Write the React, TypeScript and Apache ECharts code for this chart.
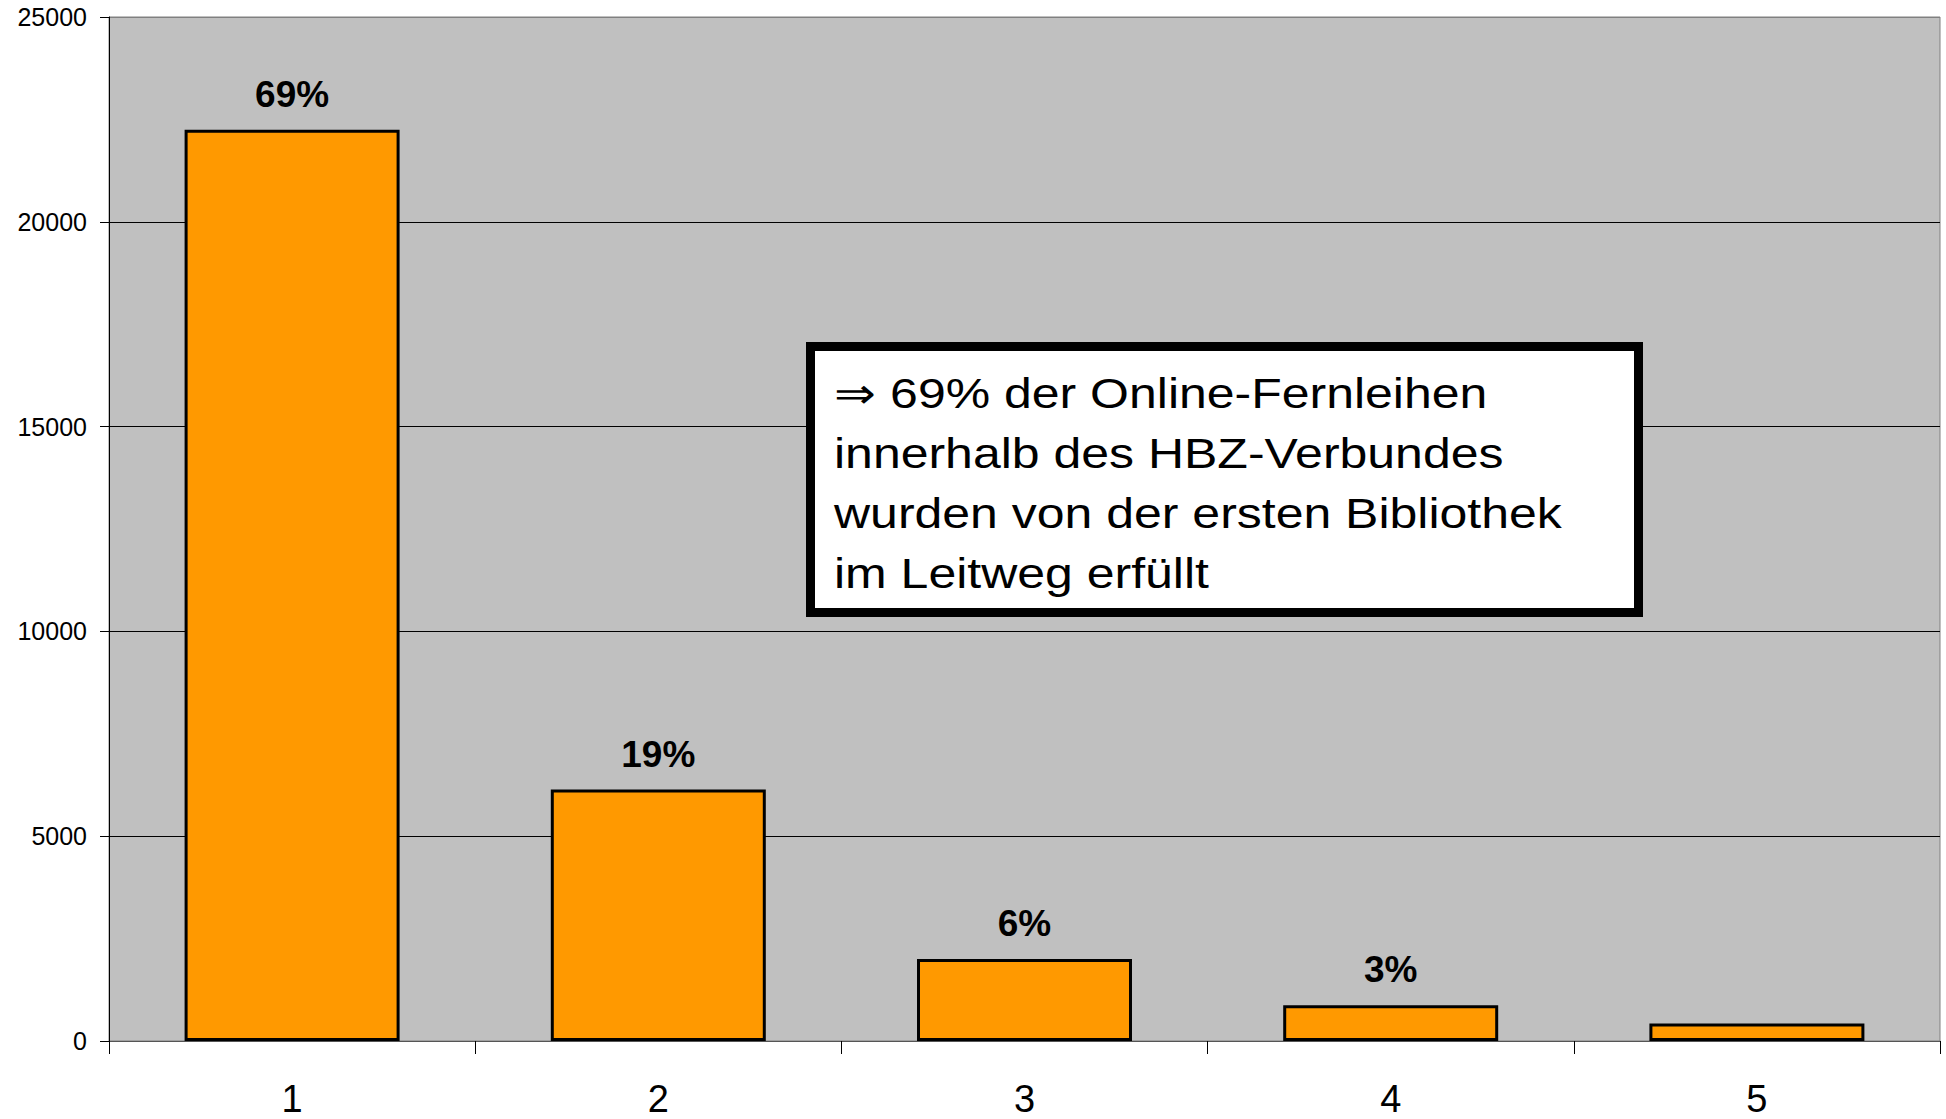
import React, { useEffect, useRef } from "react";
import * as echarts from "echarts";

const categories = ["1", "2", "3", "4", "5"];
const counts = [22250, 6140, 2000, 875, 430];
const percentLabels = ["69%", "19%", "6%", "3%", ""];
const yMax = 25000;
const yInterval = 5000;
const noteLines = [
  "⇒ 69% der Online-Fernleihen",
  "innerhalb des HBZ-Verbundes",
  "wurden von der ersten Bibliothek",
  "im Leitweg erfüllt",
];

const FONT = '"Liberation Sans", Arial, sans-serif';

export default function App() {
  const ref = useRef<HTMLDivElement>(null);
  useEffect(() => {
    document.body.style.margin = "0";
    const chart = echarts.init(ref.current!, null, { renderer: "svg" });
    chart.setOption({
      animation: false,
      backgroundColor: "#ffffff",
      grid: {
        left: 109,
        right: 6,
        top: 17,
        bottom: 78,
        show: true,
        backgroundColor: "#C0C0C0",
        borderColor: "#808080",
        borderWidth: 1,
      },
      xAxis: {
        type: "category",
        data: categories,
        axisLine: { show: true, lineStyle: { color: "#555555", width: 1 } },
        axisTick: { show: true, length: 13, lineStyle: { color: "#000" } },
        axisLabel: {
          margin: 43,
          fontSize: 38,
          lineHeight: 30,
          fontFamily: FONT,
          color: "#000",
        },
      },
      yAxis: {
        type: "value",
        min: 0,
        max: yMax,
        interval: yInterval,
        axisLine: { show: true, lineStyle: { color: "#000", width: 1 } },
        axisTick: { show: true, length: 9, lineStyle: { color: "#000" } },
        axisLabel: {
          margin: 22,
          fontSize: 25,
          fontFamily: FONT,
          color: "#000",
          formatter: (v: number) => String(v),
        },
        splitLine: {
          show: true,
          lineStyle: {
            color: ["#808080", "#000", "#000", "#000", "#000", "#808080"],
            width: 1,
          },
        },
      },
      series: [
        {
          type: "bar",
          data: counts,
          barWidth: 215,
          itemStyle: { color: "#FF9900", borderColor: "#000", borderWidth: 3 },
          label: {
            show: true,
            position: "top",
            distance: 17,
            fontSize: 37,
            fontWeight: "bold",
            fontFamily: FONT,
            color: "#000",
            formatter: (p: any) => percentLabels[p.dataIndex],
          },
        },
      ],
      graphic: [
        {
          type: "rect",
          z: 100,
          shape: { x: 810.5, y: 346.5, width: 828, height: 266 },
          style: { fill: "#ffffff", stroke: "#000", lineWidth: 9 },
        },
        {
          type: "text",
          z: 101,
          x: 834,
          y: 363,
          scaleX: 1.19,
          style: {
            text: noteLines.join("\n"),
            fontSize: 42,
            fontFamily: FONT,
            lineHeight: 60,
            fill: "#000",
            verticalAlign: "top",
            align: "left",
          },
        },
      ],
    });
    return () => chart.dispose();
  }, []);
  return <div ref={ref} style={{ width: 1946, height: 1119 }} />;
}
